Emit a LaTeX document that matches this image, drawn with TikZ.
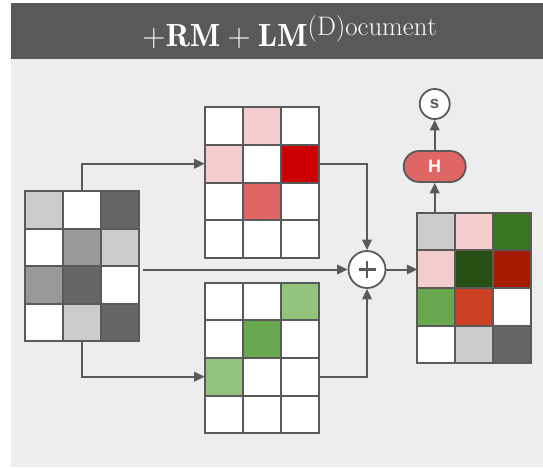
\documentclass[tikz,border=0pt]{standalone}
\usepackage{graphicx}
\usepackage{fontspec}
\newfontfamily\labelfont{Liberation Sans}
\usetikzlibrary{arrows.meta}

\definecolor{headgray}{HTML}{595959}
\definecolor{panel}{HTML}{EDEDED}
\definecolor{ink}{HTML}{5A5A5A}
\definecolor{g1}{HTML}{CCCCCC}
\definecolor{g2}{HTML}{999999}
\definecolor{g3}{HTML}{666666}
\definecolor{pk}{HTML}{F4CCCC}
\definecolor{rd}{HTML}{CC0000}
\definecolor{rm}{HTML}{E06666}
\definecolor{lg}{HTML}{93C47D}
\definecolor{mg}{HTML}{6AA84F}
\definecolor{dg}{HTML}{38761D}
\definecolor{vdg}{HTML}{274E13}
\definecolor{br}{HTML}{A61C00}
\definecolor{orr}{HTML}{CC4125}

\tikzset{
  cell/.style={draw=ink, line width=2pt, rectangle, inner sep=0pt, outer sep=0pt,
    minimum width=38pt, minimum height=37.6pt, anchor=north west},
  arr/.style={draw=headgray, line width=2pt, -{Triangle[length=10.5pt,width=9.5pt]}},
  op/.style={circle, draw=headgray, line width=1.8pt, fill=white, inner sep=0pt},
}

% a 4x3 grid of cells named <name>-<row>-<col>, colours given row by row
\newcommand{\cellgrid}[4]{%
  \foreach \cc [count=\i from 0] in {#4} {%
    \pgfmathtruncatemacro{\rr}{int(\i/3)+1}%
    \pgfmathtruncatemacro{\kk}{mod(\i,3)+1}%
    \node[cell, fill=\cc] (#1-\rr-\kk) at ({#2+38*(\kk-1)},{#3+37.6*(\rr-1)}) {};
  }%
}

\begin{document}
\begin{tikzpicture}[x=1pt, y=-1pt]
\useasboundingbox (0,0) rectangle (543,467);

% header band and panel
\fill[headgray] (11,3) rectangle (543,59);
\fill[panel] (11,59) rectangle (543,467);
\node[anchor=base, text=white, inner sep=0pt, font=\fontsize{24.88}{30}\selectfont]
  (title) at (290,46.7) {\scalebox{1.29}{$+\mathbf{RM}+\mathbf{LM}^{\mathrm{(D)ocument}}$}};

% input grid
\cellgrid{L}{25.3}{191}{g1,white,g3,white,g2,g1,g2,g3,white,white,g1,g3}
% red branch
\cellgrid{T}{204.7}{107.3}{white,pk,white,pk,white,rd,white,rm,white,white,white,white}
% green branch
\cellgrid{B}{204.7}{282.7}{white,white,lg,white,mg,white,lg,white,white,white,white,white}
% combined grid
\cellgrid{R}{417.3}{212.7}{g1,pk,dg,pk,vdg,br,mg,orr,white,white,g1,g3}

% sum operator
\node[op, minimum size=37pt] (plus) at (367,269.5) {};
\draw[headgray, line width=2.4pt] ([xshift=-8.5pt]plus.center) -- ([xshift=8.5pt]plus.center);
\draw[headgray, line width=2.4pt] ([yshift=-8.5pt]plus.center) -- ([yshift=8.5pt]plus.center);

% head and output
\node[draw=headgray, line width=1.8pt, fill=rm, rounded corners=15.5pt,
  minimum width=62pt, minimum height=31pt, inner sep=0pt,
  text=white, font=\labelfont\bfseries\fontsize{18}{20}\selectfont] (H) at (434.7,166.5) {H};
\node[op, minimum size=30pt, text=headgray,
  font=\labelfont\bfseries\fontsize{17}{20}\selectfont] (S) at (434.7,104) {s};

% connectors
\coordinate (midstart) at (143.3,269.5);
\draw[arr] (L-1-2.north) |- (T-2-1.west);
\draw[arr] (L-4-2.south) |- (B-3-1.west);
\draw[arr] (midstart) -- (plus.west);
\draw[arr] (T-2-3.east) -| (plus.north);
\draw[arr] (B-3-3.east) -| (plus.south);
\draw[arr] (plus.east) -- (plus.east -| R-2-1.west);
\draw[arr] (R-1-1.north -| H.south) -- (H.south);
\draw[arr] (H.north) -- (S.south);
\end{tikzpicture}
\end{document}
